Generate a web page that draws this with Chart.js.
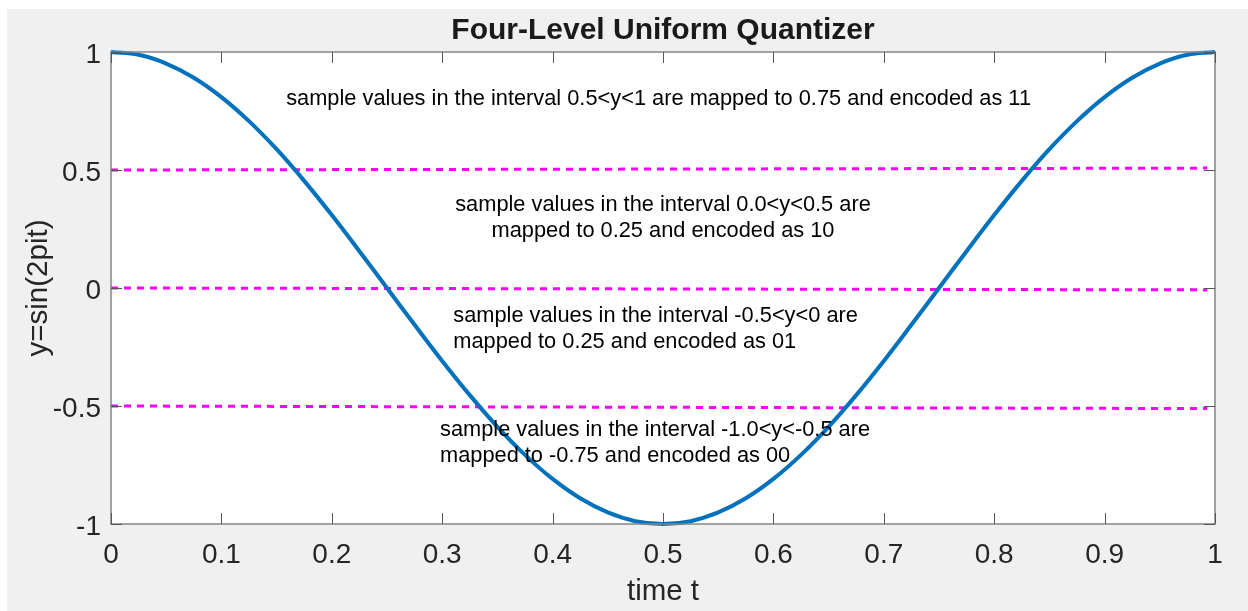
<!DOCTYPE html>
<html>
<head>
<meta charset="utf-8">
<script src="https://cdn.jsdelivr.net/npm/chart.js@4"></script>
<style>
    html, body { margin: 0; padding: 0; background: #ffffff; }
    #wrap { width: 1248px; height: 611px; }
</style>
</head>
<body>
<div id="wrap"><canvas id="quantChart"></canvas></div>
<script>
// time samples and the curve values
const times = [0, 0.025, 0.05, 0.075, 0.1, 0.125, 0.15, 0.175, 0.2, 0.225,
    0.25, 0.275, 0.3, 0.325, 0.35, 0.375, 0.4, 0.425, 0.45, 0.475,
    0.5, 0.525, 0.55, 0.575, 0.6, 0.625, 0.65, 0.675, 0.7, 0.725,
    0.75, 0.775, 0.8, 0.825, 0.85, 0.875, 0.9, 0.925, 0.95, 0.975, 1];
const curve = [1, 0.988, 0.951, 0.891, 0.809, 0.707, 0.588, 0.454, 0.309, 0.156,
    0, -0.156, -0.309, -0.454, -0.588, -0.707, -0.809, -0.891, -0.951, -0.988,
    -1, -0.988, -0.951, -0.891, -0.809, -0.707, -0.588, -0.454, -0.309, -0.156,
    0, 0.156, 0.309, 0.454, 0.588, 0.707, 0.809, 0.891, 0.951, 0.988, 1];

// dashed threshold lines (start / end)
const levelT = [0, 0.993];
const level1 = [0.5, 0.508];
const level2 = [0, -0.008];
const level3 = [-0.5, -0.511];

const xTickLabels = ['0', '0.1', '0.2', '0.3', '0.4', '0.5', '0.6', '0.7', '0.8', '0.9', '1'];
const yTickLabels = ['-1', '-0.5', '0', '0.5', '1'];

const titleText = 'Four-Level Uniform Quantizer';
const xTitle = 'time t';
const yTitle = 'y=sin(2pit)';

// annotation lines: [text, t, y, align]
const notes = [
    ['sample values in the interval 0.5<y<1 are mapped to 0.75 and encoded as 11', 0.496, 0.8, 'center'],
    ['sample values in the interval 0.0<y<0.5 are', 0.5, 0.352, 'center'],
    ['mapped to 0.25 and encoded as 10', 0.5, 0.242, 'center'],
    ['sample values in the interval -0.5<y<0 are', 0.310, -0.118, 'left'],
    ['mapped to 0.25 and encoded as 01', 0.310, -0.228, 'left'],
    ['sample values in the interval -1.0<y<-0.5 are', 0.298, -0.602, 'left'],
    ['mapped to -0.75 and encoded as 00', 0.298, -0.712, 'left']
];

const FONT = '"Liberation Sans", Arial, Helvetica, sans-serif';

function pairs(xs, ys) {
    return xs.map((x, i) => ({ x: x, y: ys[i] }));
}

function dashed(ys) {
    return {
        data: pairs(levelT, ys),
        borderColor: '#ff00ff',
        borderWidth: 3,
        borderDash: [7, 6],
        pointRadius: 0,
        fill: false,
        tension: 0
    };
}

const decorPlugin = {
    id: 'decor',
    beforeDraw(chart) {
        const c = chart.ctx;
        c.save();
        c.fillStyle = '#ffffff';
        c.fillRect(0, 0, chart.width, chart.height);
        c.fillStyle = '#f0f0f0';
        c.fillRect(7, 9, chart.width - 7, chart.height - 9);
        const a = chart.chartArea;
        c.fillStyle = '#ffffff';
        c.fillRect(a.left, a.top, a.right - a.left, a.bottom - a.top);
        c.restore();
    },
    afterDraw(chart) {
        const c = chart.ctx;
        const a = chart.chartArea;
        const xs = chart.scales.x;
        const ys = chart.scales.y;
        c.save();

        // frame and inward ticks
        c.strokeStyle = '#858585';
        c.lineWidth = 1.5;
        c.strokeRect(a.left, a.top, a.right - a.left, a.bottom - a.top);
        c.strokeStyle = '#555555';
        c.lineWidth = 1;
        c.beginPath();
        xs.ticks.forEach(t => {
            const px = Math.round(xs.getPixelForValue(t.value)) + 0.5;
            c.moveTo(px, a.bottom); c.lineTo(px, a.bottom - 11);
            c.moveTo(px, a.top); c.lineTo(px, a.top + 11);
        });
        ys.ticks.forEach(t => {
            const py = Math.round(ys.getPixelForValue(t.value)) + 0.5;
            c.moveTo(a.left, py); c.lineTo(a.left + 11, py);
            c.moveTo(a.right, py); c.lineTo(a.right - 11, py);
        });
        c.stroke();

        // annotations
        c.fillStyle = '#000000';
        c.font = '21.8px ' + FONT;
        c.textBaseline = 'middle';
        notes.forEach(n => {
            c.textAlign = n[3];
            c.fillText(n[0], xs.getPixelForValue(n[1]), ys.getPixelForValue(n[2]));
        });

        // title and axis labels
        c.fillStyle = '#1a1a1a';
        c.textAlign = 'center';
        c.font = 'bold 30px ' + FONT;
        c.fillText(titleText, (a.left + a.right) / 2, 31);
        c.fillStyle = '#262626';
        c.font = '29.5px ' + FONT;
        c.fillText(xTitle, (a.left + a.right) / 2, 592);
        c.translate(39, (a.top + a.bottom) / 2);
        c.rotate(-Math.PI / 2);
        c.fillText(yTitle, 0, 0);
        c.restore();
    }
};

function initChart() {
    const ctx = document.getElementById('quantChart');
    if (!ctx) return;

    new Chart(ctx, {
        type: 'line',
        data: {
            datasets: [
                {
                    data: pairs(times, curve),
                    borderColor: '#0072bd',
                    borderWidth: 4,
                    pointRadius: 0,
                    fill: false,
                    tension: 0.4,
                    clip: false
                },
                dashed(level1),
                dashed(level2),
                dashed(level3)
            ]
        },
        options: {
            responsive: true,
            maintainAspectRatio: false,
            animation: false,
            layout: { padding: { top: 52, right: 33, left: 0, bottom: 0 } },
            plugins: {
                legend: { display: false },
                tooltip: { enabled: false }
            },
            scales: {
                x: {
                    type: 'linear',
                    min: 0,
                    max: 1,
                    afterFit: s => { s.height = 87; },
                    grid: { display: false, drawTicks: false },
                    border: { display: false },
                    ticks: {
                        stepSize: 0.1,
                        padding: 14,
                        color: '#262626',
                        font: { family: FONT, size: 28 },
                        maxRotation: 0,
                        autoSkip: false,
                        callback: (v, i) => xTickLabels[i]
                    }
                },
                y: {
                    min: -1,
                    max: 1,
                    afterFit: s => { s.width = 111; },
                    grid: { display: false, drawTicks: false },
                    border: { display: false },
                    ticks: {
                        stepSize: 0.5,
                        padding: 10,
                        labelOffset: 3,
                        color: '#262626',
                        font: { family: FONT, size: 28 },
                        callback: (v, i) => yTickLabels[i]
                    }
                }
            }
        },
        plugins: [decorPlugin]
    });
}

document.addEventListener('DOMContentLoaded', () => {
    initChart();
});
</script>
</body>
</html>
